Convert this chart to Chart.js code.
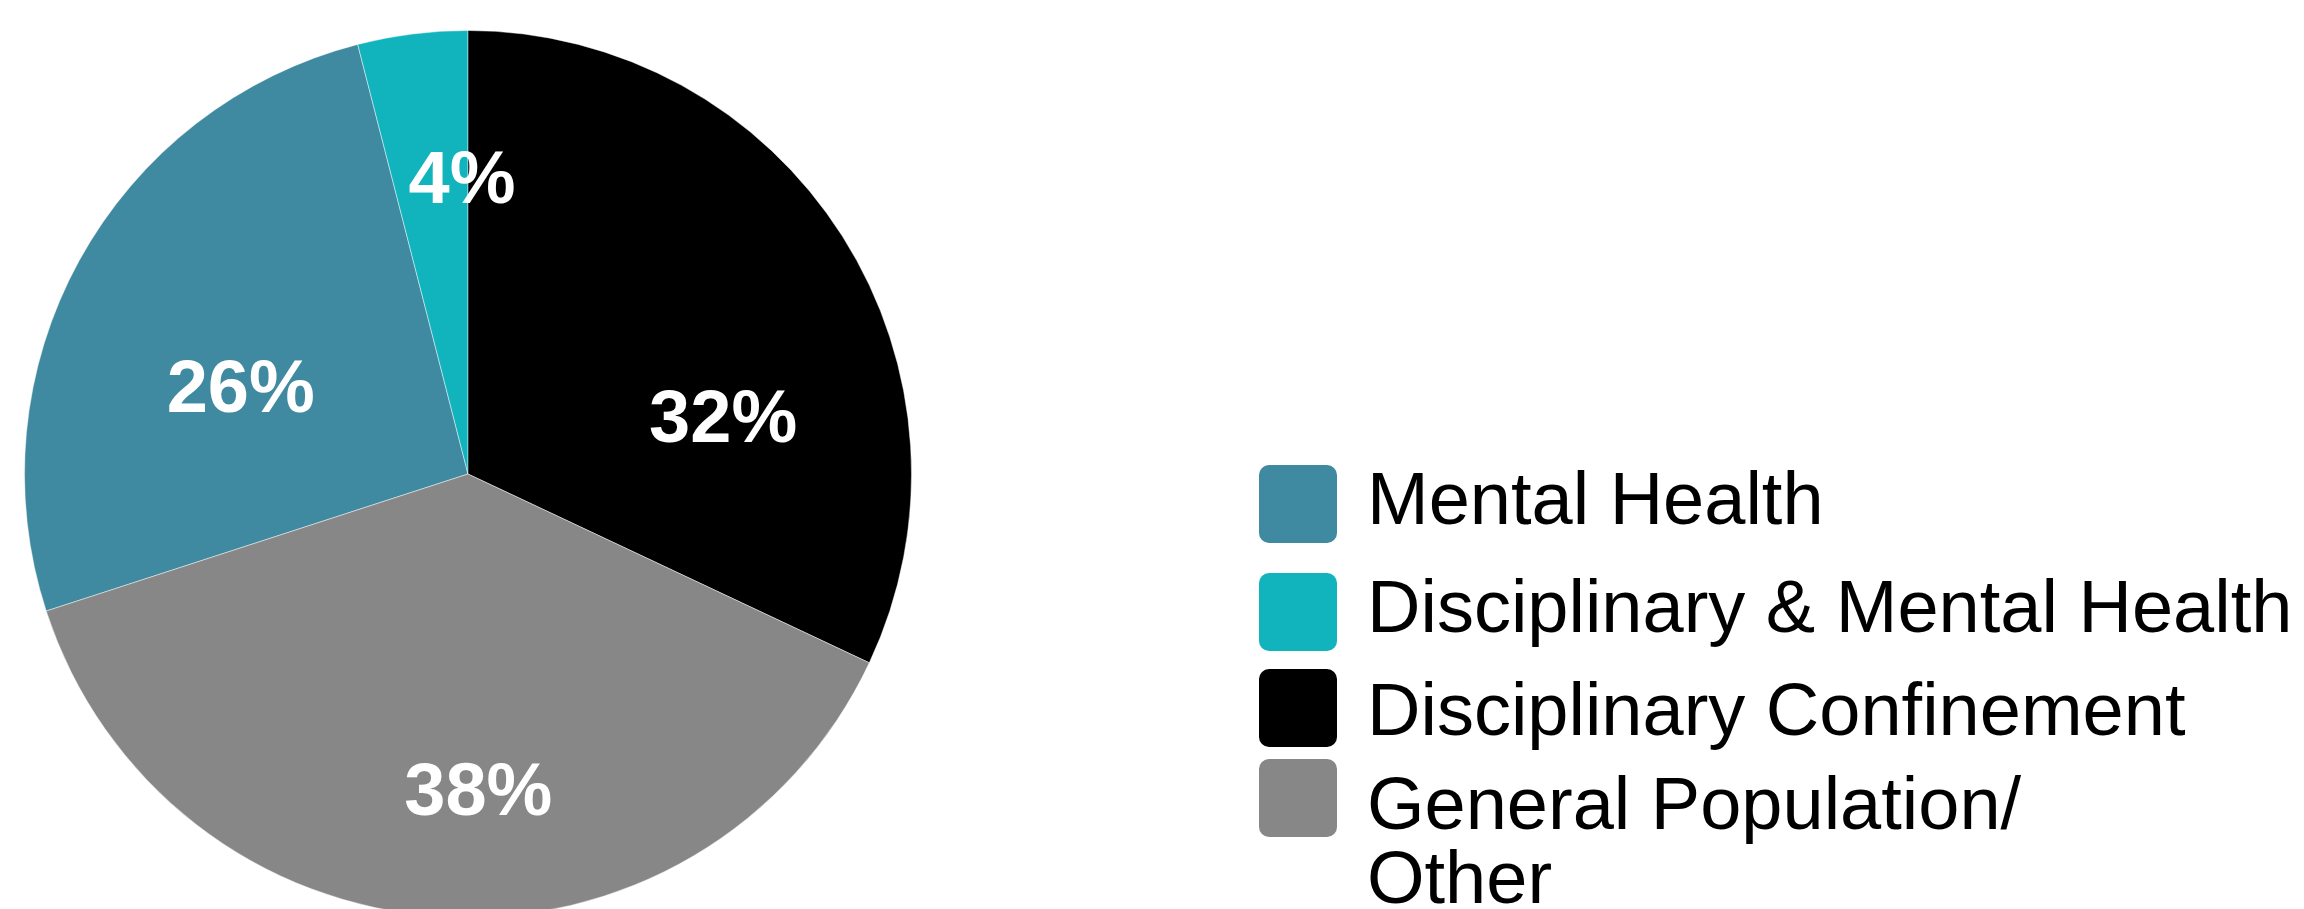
<!DOCTYPE html>
<html>
<head>
<meta charset="utf-8">
<script src="https://cdn.jsdelivr.net/npm/chart.js@4/dist/chart.umd.min.js"></script>
<style>
  html, body {
    margin: 0;
    padding: 0;
    width: 2304px;
    height: 909px;
    overflow: hidden;
    background: #ffffff;
    font-family: "Liberation Sans", Arial, sans-serif;
  }
  #pie {
    position: absolute;
    left: 0;
    top: 30px;
  }
  #legend {
    position: absolute;
    left: 1259px;
    top: 0;
    margin: 0;
    padding: 0;
    list-style: none;
  }
  #legend li {
    display: flex;
    align-items: flex-start;
  }
  /* box is a bit taller than the text line; keep it from pushing the rows apart */
  #legend .box {
    position: relative;
    width: 78px;
    height: 78px;
    margin-bottom: -4px;
    border-radius: 10px;
    flex: none;
  }
  #legend .text {
    margin-left: 30px;
    font-size: 74px;
    line-height: 74px;
    color: #000000;
    white-space: nowrap;
  }
  #legend li:nth-child(1) { margin-top: 462px; }
  #legend li:nth-child(2) { margin-top: 34px; }
  #legend li:nth-child(3) { margin-top: 29px; }
  #legend li:nth-child(4) { margin-top: 20px; }
  #legend li:nth-child(1) .box { top: 3px; }
  #legend li:nth-child(2) .box { top: 3px; }
  #legend li:nth-child(3) .box { top: -4px; }
  #legend li:nth-child(4) .box { top: -8px; }
</style>
</head>
<body>
<canvas id="pie" width="936" height="888"></canvas>
<ul id="legend"></ul>

<script>
// Share of cases by housing type (percent)
const categories = [
  'Mental Health',
  'Disciplinary & Mental Health',
  'Disciplinary Confinement',
  ['General Population/', 'Other']
];
const shares = [26, 4, 32, 38];
const sliceColors = ['#3f8aa0', '#11b3bc', '#000000', '#878787'];

// where each percent label sits: fraction along the slice's angle, fraction of the radius
const labelPlacement = [
  { along: 0.42, radius: 0.55 },
  { along: 0.92, radius: 0.67 },
  { along: 0.67, radius: 0.59 },
  { along: 0.46, radius: 0.71 }
];

const percentLabels = {
  id: 'percentLabels',
  afterDatasetsDraw(chart, args, opts) {
    const ctx = chart.ctx;
    const meta = chart.getDatasetMeta(0);
    const values = chart.data.datasets[0].data;
    const size = opts.size;

    ctx.save();
    ctx.font = `bold ${size}px "Liberation Sans", Arial, sans-serif`;
    ctx.fillStyle = '#ffffff';
    ctx.textAlign = 'center';
    ctx.textBaseline = 'alphabetic';

    meta.data.forEach((arc, i) => {
      const p = arc.getProps(['x', 'y', 'startAngle', 'endAngle', 'outerRadius'], true);
      const place = opts.placement[i];
      const angle = p.startAngle + place.along * (p.endAngle - p.startAngle);
      const r = p.outerRadius * place.radius;
      const x = p.x + Math.cos(angle) * r;
      const y = p.y + Math.sin(angle) * r;
      // shift down so the digits are centred on the point
      ctx.fillText(values[i] + '%', x, y + size * 0.358);
    });
    ctx.restore();
  }
};

const chart = new Chart(document.getElementById('pie'), {
  type: 'pie',
  data: {
    labels: categories,
    datasets: [{
      data: shares,
      backgroundColor: sliceColors,
      borderColor: 'rgba(255, 255, 255, 0.45)',
      borderWidth: 1
    }]
  },
  options: {
    responsive: false,
    animation: false,
    rotation: -(shares[0] + shares[1]) / 100 * 360,
    layout: { padding: 0 },
    plugins: {
      legend: { display: false },
      tooltip: { enabled: false },
      percentLabels: { size: 74, placement: labelPlacement }
    }
  },
  plugins: [percentLabels]
});

// Legend built from the chart's own legend items
const legendEl = document.getElementById('legend');
const items = chart.options.plugins.legend.labels.generateLabels(chart);
items.forEach(item => {
  const li = document.createElement('li');

  const box = document.createElement('span');
  box.className = 'box';
  box.style.background = item.fillStyle;

  const text = document.createElement('span');
  text.className = 'text';
  const lines = Array.isArray(item.text) ? item.text : [item.text];
  lines.forEach((line, j) => {
    if (j > 0) text.appendChild(document.createElement('br'));
    text.appendChild(document.createTextNode(line));
  });

  li.appendChild(box);
  li.appendChild(text);
  legendEl.appendChild(li);
});
</script>
</body>
</html>
